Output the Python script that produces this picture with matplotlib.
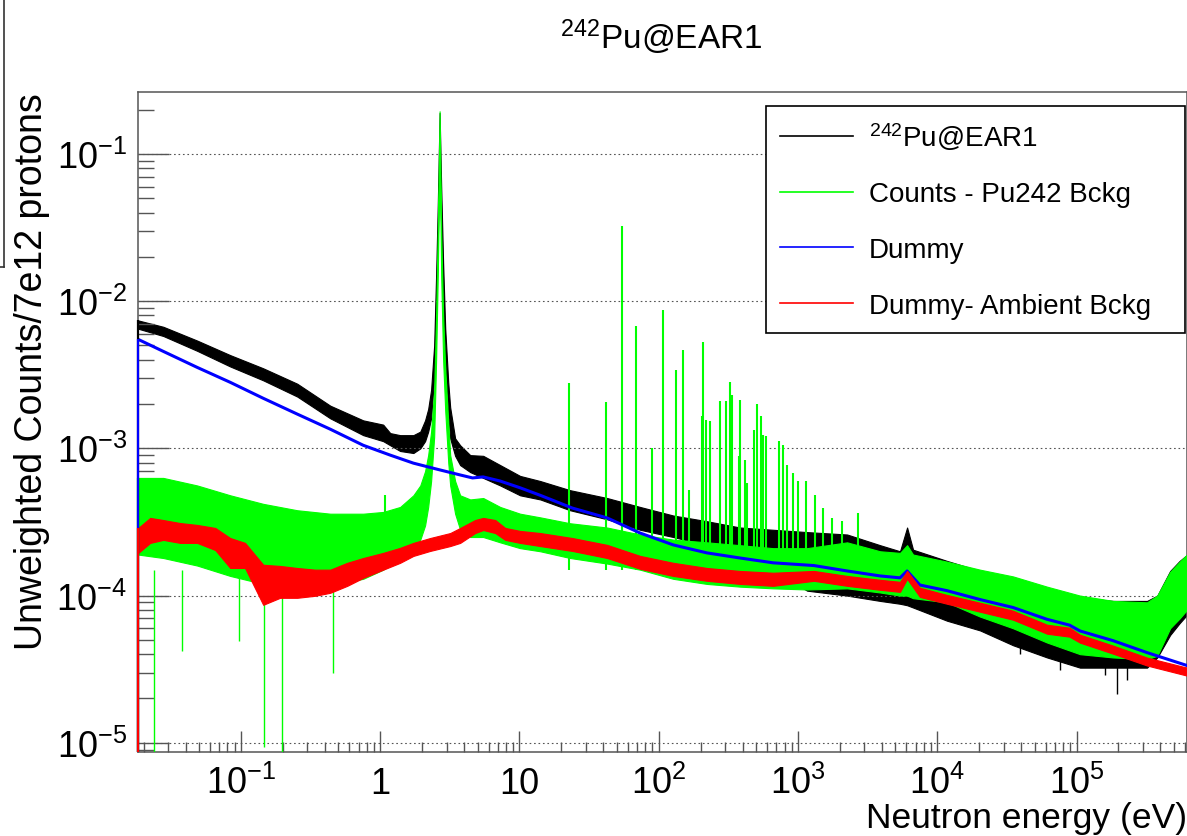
import matplotlib
matplotlib.use("Agg")
import matplotlib.pyplot as plt
from matplotlib.lines import Line2D

plt.rcParams['font.family'] = ['Liberation Sans', 'DejaVu Sans']
plt.rcParams['mathtext.fontset'] = 'custom'
plt.rcParams['mathtext.rm'] = 'Liberation Sans'
plt.rcParams['mathtext.it'] = 'Liberation Sans:italic'
plt.rcParams['mathtext.bf'] = 'Liberation Sans:bold'
plt.rcParams['mathtext.default'] = 'rm'

# ---------------- data ----------------
title = "$^{242}$Pu@EAR1"
series_labels = ["$^{242}$Pu@EAR1", "Counts - Pu242 Bckg", "Dummy", "Dummy- Ambient Bckg"]
xlabel = "Neutron energy (eV)"
ylabel = "Unweighted Counts/7e12 protons"
xticks = [0.1, 1, 10, 100, 1e3, 1e4, 1e5]
xtick_labels = ["$10^{-1}$", "1", "10", "$10^{2}$", "$10^{3}$", "$10^{4}$", "$10^{5}$"]
yticks = [1e-5, 1e-4, 1e-3, 1e-2, 1e-1]
ytick_labels = ["$10^{-5}$", "$10^{-4}$", "$10^{-3}$", "$10^{-2}$", "$10^{-1}$"]

# 242Pu@EAR1 (black): noisy band, upper / lower envelope
black_E = [0.0183, 0.0277, 0.0485, 0.0838, 0.1445, 0.2536, 0.438, 0.755, 1.05, 1.18,
           1.39, 1.73, 1.94, 2.10, 2.21, 2.32, 2.44, 2.52, 2.59, 2.67,
           2.74, 2.83, 2.93, 3.08, 3.18, 3.45, 3.75, 4.43, 5.49, 7.27,
           10.1, 14.1, 23.1, 42.6, 73.5, 127, 222, 384, 662, 1162,
           2252, 3885, 5400, 6070, 6700, 11750, 20280, 35000, 61400, 105900,
           183000, 320800, 380000, 470000, 550000, 621000]
black_hi = [7.4e-3, 6.7e-3, 5.4e-3, 4.3e-3, 3.5e-3, 2.75e-3, 1.95e-3, 1.55e-3, 1.45e-3, 1.27e-3,
            1.23e-3, 1.23e-3, 1.3e-3, 1.55e-3, 1.85e-3, 2.5e-3, 5.0e-3, 1.5e-2, 4.5e-2, 0.19,
            6e-2, 1.8e-2, 6.5e-3, 2.8e-3, 1.9e-3, 1.17e-3, 1.05e-3, 9.0e-4, 8.9e-4, 7.7e-4,
            6.5e-4, 6.0e-4, 5.2e-4, 4.6e-4, 4.0e-4, 3.5e-4, 3.2e-4, 2.9e-4, 2.8e-4, 2.7e-4,
            2.6e-4, 2.2e-4, 2.0e-4, 2.9e-4, 2.05e-4, 1.72e-4, 1.47e-4, 1.26e-4, 1.08e-4, 9.7e-5,
            9.2e-5, 9.2e-5, 1.0e-4, 1.47e-4, 1.72e-4, 1.89e-4]
black_lo = [6.5e-3, 5.8e-3, 4.6e-3, 3.6e-3, 2.9e-3, 2.25e-3, 1.6e-3, 1.23e-3, 1.12e-3, 1.05e-3,
            9.6e-4, 9.3e-4, 1.0e-3, 1.12e-3, 1.3e-3, 1.6e-3, 3.0e-3, 8e-3, 2.5e-2, 0.1,
            3e-2, 1e-2, 4e-3, 1.7e-3, 1.17e-3, 8.9e-4, 7.7e-4, 6.9e-4, 6.3e-4, 5.6e-4,
            4.8e-4, 4.5e-4, 3.8e-4, 3.3e-4, 2.8e-4, 2.5e-4, 2.2e-4, 2.0e-4, 1.5e-4, 1.08e-4,
            1.0e-4, 9.2e-5, 8.8e-5, 8.6e-5, 8.3e-5, 6.75e-5, 5.8e-5, 4.6e-5, 3.8e-5, 3.24e-5,
            3.24e-5, 3.24e-5, 3.8e-5, 5.4e-5, 6.5e-5, 7.4e-5]
black_dip_E = [39300, 76200, 160300, 195300, 230600]
black_dip_top = [5.0e-5, 4.0e-5, 3.6e-5, 3.5e-5, 3.5e-5]
black_dip_val = [4.0e-5, 3.1e-5, 2.9e-5, 2.13e-5, 2.65e-5]

# Counts - Pu242 Bckg (green): noisy band
green_E = [0.0183, 0.0277, 0.0485, 0.0838, 0.1445, 0.2536, 0.438, 0.755, 1.05, 1.39,
           1.73, 1.94, 2.10, 2.21, 2.32, 2.44, 2.52, 2.59, 2.67, 2.74,
           2.83, 2.93, 3.08, 3.18, 3.45, 3.75, 4.43, 5.49, 7.27, 10.1,
           14.1, 23.1, 42.6, 73.5, 127, 222, 384, 662, 1162, 2252,
           3885, 5400, 6070, 6700, 11750, 20280, 35000, 61400, 105900, 183000,
           320800, 380000, 470000, 550000, 621000]
green_hi = [6.3e-4, 6.3e-4, 5.6e-4, 4.8e-4, 4.2e-4, 3.8e-4, 3.6e-4, 3.6e-4, 3.7e-4, 4.0e-4,
            4.8e-4, 5.6e-4, 7.0e-4, 9.0e-4, 1.3e-3, 2.5e-3, 8e-3, 3e-2, 0.195, 3e-2,
            8e-3, 3.5e-3, 1.5e-3, 9e-4, 6.0e-4, 4.8e-4, 4.5e-4, 4.6e-4, 4.0e-4, 3.6e-4,
            3.4e-4, 3.1e-4, 2.9e-4, 2.6e-4, 2.4e-4, 2.3e-4, 2.2e-4, 2.1e-4, 2.1e-4, 2.3e-4,
            2.0e-4, 1.95e-4, 2.2e-4, 1.9e-4, 1.7e-4, 1.5e-4, 1.35e-4, 1.15e-4, 1.0e-4, 9.2e-5,
            9.0e-5, 1.0e-4, 1.45e-4, 1.7e-4, 1.9e-4]
green_lo = [1.9e-4, 1.8e-4, 1.6e-4, 1.36e-4, 1.2e-4, 1.15e-4, 1.18e-4, 1.3e-4, 1.5e-4, 1.8e-4,
            2.1e-4, 2.4e-4, 3.0e-4, 4.0e-4, 6.0e-4, 1.2e-3, 4e-3, 1.5e-2, 0.1, 1.5e-2,
            4e-3, 1.8e-3, 8e-4, 5.6e-4, 3.6e-4, 2.8e-4, 2.5e-4, 2.5e-4, 2.3e-4, 2.1e-4,
            2.0e-4, 1.8e-4, 1.65e-4, 1.5e-4, 1.3e-4, 1.2e-4, 1.15e-4, 1.12e-4, 1.1e-4, 1.12e-4,
            1.05e-4, 1.0e-4, 1.0e-4, 9.6e-5, 9.0e-5, 7.2e-5, 6.0e-5, 4.8e-5, 4.0e-5, 3.8e-5,
            3.7e-5, 3.9e-5, 6.0e-5, 7.0e-5, 8.0e-5]
# resonance spikes (green)
res_E = [1.09, 22.7, 41.9, 54.6, 68.8, 89.7, 107.6, 133.3, 149.7, 165.3,
         204.8, 208.3, 218.9, 233.9, 276, 304.7, 325.6, 336.5, 377.7, 384,
         417, 431, 484, 508.6, 543.4, 561.6, 590.2, 731.6, 781.6, 835.3,
         922.3, 1002, 1143, 1327, 1514, 1757, 2073, 2700]
res_peak = [4.8e-4, 2.77e-3, 2.06e-3, 3.25e-2, 6.73e-3, 1.0e-3, 8.77e-3, 3.39e-3, 4.63e-3, 5.2e-4,
            1.65e-3, 5.32e-3, 1.55e-3, 1.53e-3, 2.09e-3, 2.09e-3, 2.81e-3, 2.29e-3, 8.86e-4, 2.12e-3,
            8.32e-4, 5.81e-4, 1.33e-3, 1.99e-3, 1.65e-3, 1.23e-3, 1.21e-3, 1.12e-3, 1.05e-3, 7.69e-4,
            6.79e-4, 6.0e-4, 6.0e-4, 4.82e-4, 3.93e-4, 3.37e-4, 3.21e-4, 3.64e-4]
spike_base = 1.5e-4
# deep downward fluctuations of the green histogram (1e-6 = empty bin)
green_dip_E = [0.0239, 0.0379, 0.0973, 0.147, 0.198, 0.46]
green_dip_val = [1e-6, 4.2e-5, 4.9e-5, 9.3e-6, 1e-6, 3.0e-5]

# Dummy (blue)
blue_E = [0.0183, 0.0277, 0.0485, 0.0838, 0.1445, 0.2536, 0.438, 0.755, 1.18, 1.73,
          2.59, 3.75, 4.6, 5.49, 7.27, 10.1, 14.1, 24, 42.6, 73.5,
          127, 222, 384, 662, 1300, 2252, 3885, 5400, 6070, 7500,
          11750, 20280, 35000, 61400, 89000, 105900, 183000, 320800, 621000]
blue_v = [5.5e-3, 4.56e-3, 3.55e-3, 2.81e-3, 2.19e-3, 1.71e-3, 1.35e-3, 1.05e-3, 9.0e-4, 7.94e-4,
          7.2e-4, 6.6e-4, 6.3e-4, 6.4e-4, 6.0e-4, 5.4e-4, 4.8e-4, 3.93e-4, 3.37e-4, 2.66e-4,
          2.21e-4, 1.95e-4, 1.8e-4, 1.67e-4, 1.6e-4, 1.47e-4, 1.36e-4, 1.32e-4, 1.47e-4, 1.18e-4,
          1.08e-4, 9.4e-5, 8.3e-5, 6.9e-5, 6.3e-5, 5.75e-5, 4.94e-5, 4.1e-5, 3.35e-5]

# Dummy- Ambient Bckg (red): thick band
red_E = [0.0183, 0.0223, 0.0277, 0.0366, 0.0485, 0.0654, 0.0838, 0.107, 0.1445, 0.191,
         0.2536, 0.341, 0.438, 0.58, 0.755, 1.05, 1.39, 1.73, 2.28, 3.18,
         3.75, 4.8, 5.49, 6.7, 7.9, 10.1, 14.1, 24, 42.6, 73.5,
         127, 222, 384, 662, 1300, 2252, 3885, 5400, 6070, 7500,
         11750, 20280, 35000, 61400, 89000, 105900, 183000, 320800, 621000]
red_hi = [2.88e-4, 3.37e-4, 3.26e-4, 3.11e-4, 3.02e-4, 2.88e-4, 2.46e-4, 2.28e-4, 1.62e-4, 1.59e-4,
          1.54e-4, 1.50e-4, 1.50e-4, 1.67e-4, 1.80e-4, 1.95e-4, 2.11e-4, 2.28e-4, 2.46e-4, 2.66e-4,
          2.88e-4, 3.26e-4, 3.37e-4, 3.26e-4, 2.88e-4, 2.75e-4, 2.66e-4, 2.46e-4, 2.21e-4, 1.86e-4,
          1.67e-4, 1.54e-4, 1.47e-4, 1.43e-4, 1.47e-4, 1.36e-4, 1.28e-4, 1.24e-4, 1.47e-4, 1.13e-4,
          1.01e-4, 8.94e-5, 7.89e-5, 6.34e-5, 6.05e-5, 5.42e-5, 4.57e-5, 3.79e-5, 3.24e-5]
red_lo = [1.95e-4, 2.28e-4, 2.39e-4, 2.28e-4, 2.28e-4, 2.04e-4, 1.54e-4, 1.54e-4, 8.66e-5, 9.66e-5,
          9.66e-5, 9.97e-5, 1.045e-4, 1.165e-4, 1.32e-4, 1.50e-4, 1.67e-4, 1.86e-4, 2.01e-4, 2.17e-4,
          2.28e-4, 2.66e-4, 2.79e-4, 2.66e-4, 2.39e-4, 2.28e-4, 2.17e-4, 2.01e-4, 1.80e-4, 1.52e-4,
          1.36e-4, 1.26e-4, 1.20e-4, 1.165e-4, 1.26e-4, 1.165e-4, 1.095e-4, 1.06e-4, 1.30e-4, 9.8e-5,
          8.8e-5, 7.77e-5, 6.86e-5, 5.51e-5, 5.26e-5, 4.79e-5, 4.03e-5, 3.35e-5, 2.86e-5]

# ---------------- layout ----------------
W, H = 1187, 837
xlim = (0.01823, 6.21e5)
ylim = (8.66e-6, 0.2636)
col_black, col_green, col_blue, col_red = "#000000", "#00ff00", "#0000ff", "#ff0000"
axis_col = "#555555"

fig = plt.figure(figsize=(W / 100, H / 100), dpi=100)
ax = fig.add_axes([138 / W, (H - 753) / H, (W - 138) / W, (753 - 93) / H])
ax.set_xscale("log")
ax.set_yscale("log")
ax.set_xlim(*xlim)
ax.set_ylim(*ylim)

# left-edge risers of the histograms (first bin drawn from the bottom)
for first, c in [(black_hi[0], col_black), (green_hi[0], col_green),
                 (blue_v[0], col_blue), (red_hi[0], col_red)]:
    ax.vlines(xlim[0], ylim[0], first, color=c, lw=1.6, zorder=6, clip_on=False)

# black
ax.fill_between(black_E, black_lo, black_hi, color=col_black, lw=0.8, zorder=2)
ax.vlines(black_dip_E, black_dip_val, black_dip_top, color=col_black, lw=1.0, zorder=2)
# green
ax.fill_between(green_E, green_lo, green_hi, color=col_green, lw=0.8, zorder=3)
ax.vlines(res_E, spike_base, res_peak, color=col_green, lw=1.5, zorder=3)
ax.vlines(green_dip_E, green_dip_val, spike_base, color=col_green, lw=1.0, zorder=3)
# blue
ax.plot(blue_E, blue_v, color=col_blue, lw=2.2, zorder=4)
# red
ax.fill_between(red_E, red_lo, red_hi, color=col_red, lw=0.8, zorder=5)

# axes styling (ROOT-like)
for s in ax.spines.values():
    s.set_color(axis_col)
    s.set_linewidth(1.1)
ax.set_xticks(xticks)
ax.set_xticklabels(xtick_labels)
ax.set_yticks(yticks)
ax.set_yticklabels(ytick_labels)
ax.tick_params(axis="both", which="both", direction="in", color=axis_col, width=1.0,
               top=False, right=False, labelsize=26)
ax.tick_params(axis="y", which="major", length=22, pad=8)
ax.tick_params(axis="y", which="minor", length=11.5)
ax.tick_params(axis="x", which="major", length=15, pad=29.5)
ax.tick_params(axis="x", which="minor", length=7.5)
for lab in ax.get_xticklabels():
    lab.set_va("baseline")
ax.grid(axis="y", which="major", linestyle=(0, (1.5, 2.5)), color=axis_col, lw=0.8)
ax.set_axisbelow(False)

ax.set_xlabel(xlabel, fontsize=25.5, ha="right", va="baseline")
ax.xaxis.set_label_coords(1.0, (753 - 828) / (753 - 93))
ax.set_ylabel(ylabel, fontsize=27, ha="right", va="baseline")
ax.yaxis.set_label_coords((42 - 138) / (W - 138), 1.0)

fig.text(661 / W, 1 - 37 / H, title, ha="center", va="center", fontsize=24)

handles = [Line2D([], [], color=c, lw=1.2) for c in (col_black, col_green, col_blue, col_red)]
leg = ax.legend(handles, series_labels, loc="upper left",
                bbox_to_anchor=(766 / W, 1 - 331 / H, 419 / W, 224 / H),
                bbox_transform=fig.transFigure, mode="expand", borderaxespad=0,
                fontsize=20, handlelength=2.63, handletextpad=0.58, labelspacing=1.07,
                borderpad=0.5, fancybox=False, framealpha=1, edgecolor="black")
leg.get_frame().set_linewidth(1.2)
leg.set_zorder(10)

# stray pad border in the top-left corner of the canvas
fig.add_artist(Line2D([4 / W, 4 / W], [1, 1 - 268 / H], transform=fig.transFigure,
                      color="#333333", lw=1.2))
fig.add_artist(Line2D([0, 4 / W], [1 - 268 / H, 1 - 268 / H], transform=fig.transFigure,
                      color="#333333", lw=1.2))

fig.savefig("out.png", dpi=100)
